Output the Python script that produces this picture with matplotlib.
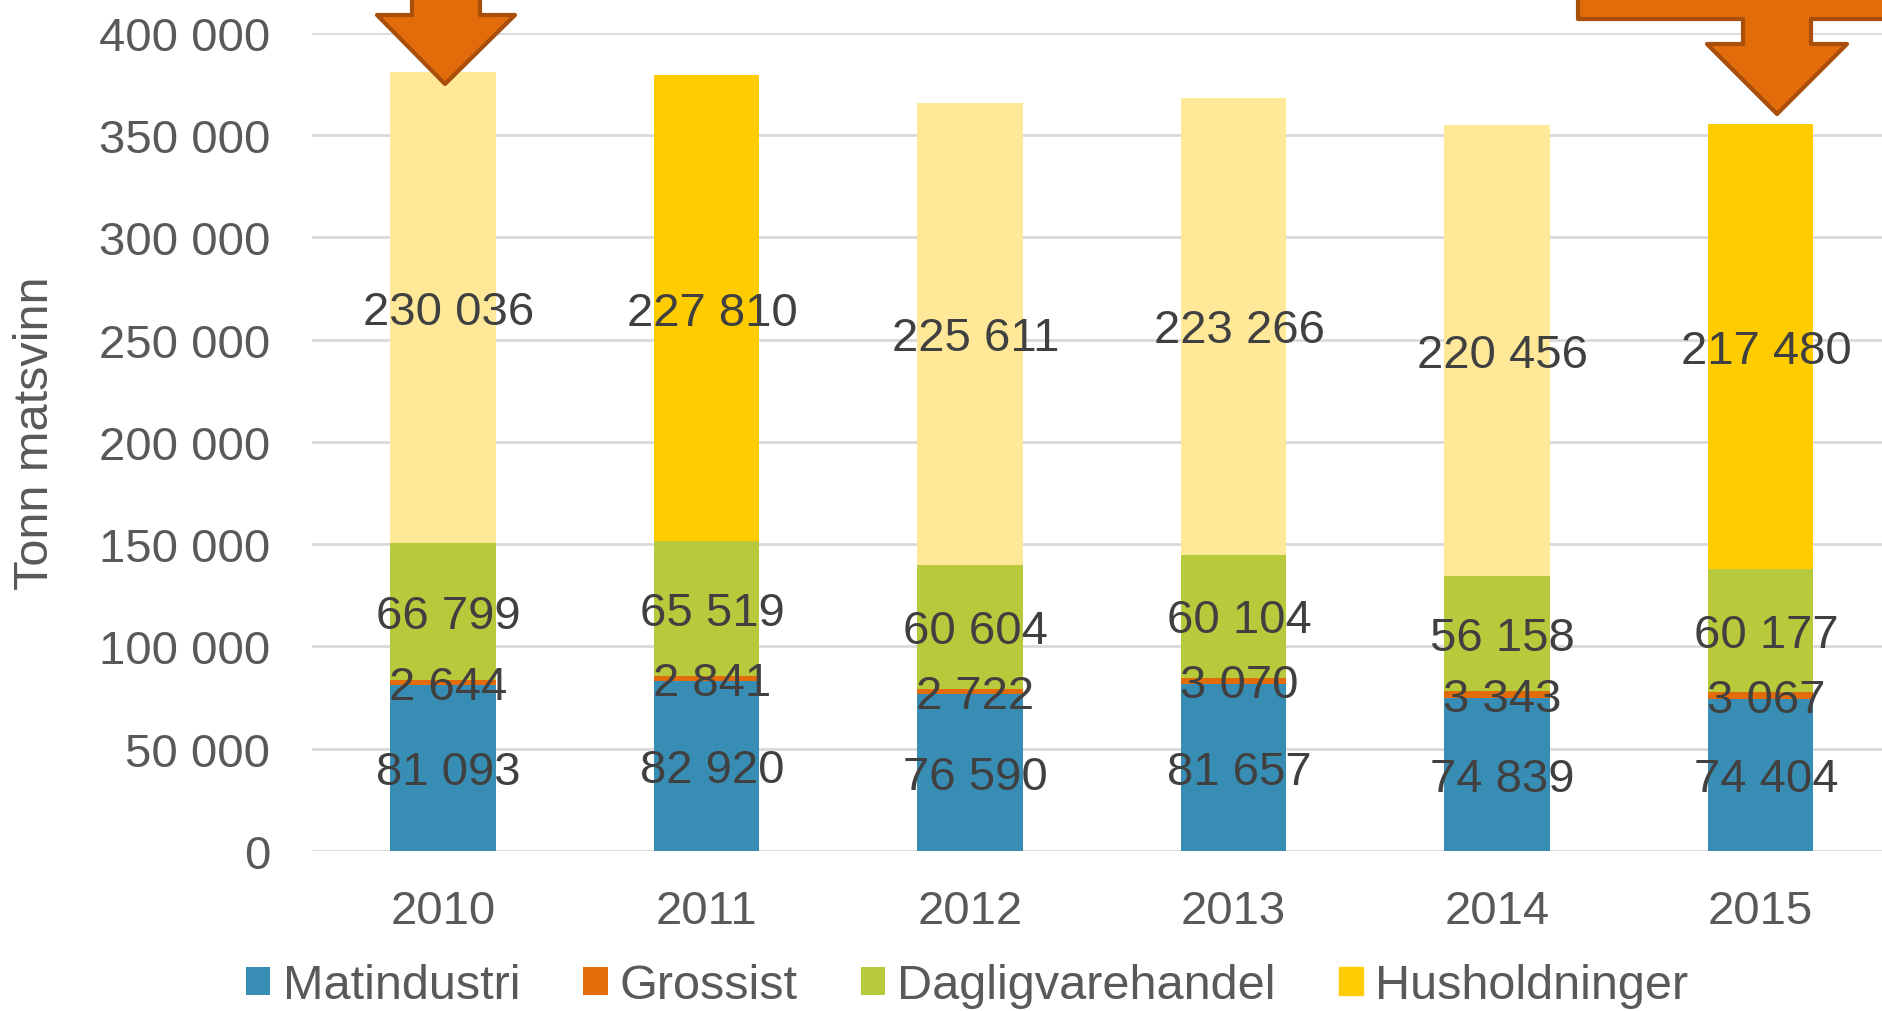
import matplotlib
matplotlib.use("Agg")
import matplotlib.pyplot as plt
import matplotlib.patches as patches
import numpy as np

years = ["2010", "2011", "2012", "2013", "2014", "2015"]
matindustri = [81093, 82920, 76590, 81657, 74839, 74404]
grossist = [2644, 2841, 2722, 3070, 3343, 3067]
dagligvare = [66799, 65519, 60604, 60104, 56158, 60177]
husholdninger = [230036, 227810, 225611, 223266, 220456, 217480]
highlight = [False, True, False, False, False, True]

series_names = ["Matindustri", "Grossist", "Dagligvarehandel", "Husholdninger"]
colors = ["#378DB3", "#E36C0A", "#B9C93C", "#FFCC00"]
light_yellow = "#FFE999"

W, H = 1882, 1012
fig = plt.figure(figsize=(W / 100, H / 100), dpi=100)
ax = fig.add_axes([312 / W, 1 - 852 / H, 1 - 312 / W, (852 - 33.6) / H])

x = np.arange(len(years))
width = 0.40
bottom = np.zeros(len(years))
data = [matindustri, grossist, dagligvare, husholdninger]
for i, vals in enumerate(data):
    vals = np.array(vals)
    if i == 3:
        c = [colors[3] if h else light_yellow for h in highlight]
    else:
        c = colors[i]
    ax.bar(x, vals, width, bottom=bottom, color=c, label=series_names[i], zorder=3)
    for xi, b, v in zip(x, bottom, vals):
        ax.annotate(f"{v:,}".replace(",", " "), xy=(xi, b + v / 2), xytext=(4, -3),
                    textcoords="offset points", ha="center", va="center",
                    fontsize=34, color="#404040", family="Liberation Sans", zorder=5)
    bottom += vals

ax.set_xlim(-0.497, 5.461)
ax.set_ylim(0, 400000)
ax.set_yticks(np.arange(0, 400001, 50000))
ax.set_yticklabels([f"{v:,}".replace(",", " ") for v in range(0, 400001, 50000)])
ax.set_xticks(x)
ax.set_xticklabels(years)
ax.tick_params(axis="both", length=0, labelsize=34, labelcolor="#595959")
ax.tick_params(axis="y", pad=30)
ax.tick_params(axis="x", pad=27)
for lab in ax.get_xticklabels() + ax.get_yticklabels():
    lab.set_family("Liberation Sans")
ax.grid(axis="y", color="#D9D9D9", linewidth=2, zorder=0)
for s in ax.spines.values():
    s.set_visible(False)

fig.text(36 / W, 1 - 433 / H, "Tonn matsvinn", rotation=90, ha="center", va="center",
         fontsize=35, color="#595959", family="Liberation Sans")

leg = fig.legend(*ax.get_legend_handles_labels(), loc="center", bbox_to_anchor=(0.514, 0.025),
                 ncol=4, frameon=False, handlelength=0.5, handleheight=0.5,
                 handletextpad=0.25, columnspacing=1.3,
                 prop={"family": "Liberation Sans", "size": 35})
for t in leg.get_texts():
    t.set_color("#595959")
leg.legend_handles[3].set_color(colors[3])


def arrow(pts):
    p = [(px / W, 1 - py / H) for px, py in pts]
    fig.patches.append(patches.Polygon(p, closed=True, transform=fig.transFigure,
                                       facecolor="#E36C0A", edgecolor="#A84F0C",
                                       linewidth=3, joinstyle="round", zorder=10))


arrow([(412, -10), (480, -10), (480, 16), (515, 16), (445, 85), (377, 16), (412, 16)])
arrow([(1578, -30), (1900, -30), (1900, 20), (1811, 20), (1811, 45), (1847, 45),
       (1777, 115), (1707, 45), (1743, 45), (1743, 20), (1578, 20)])

fig.savefig("out.png", dpi=100)
